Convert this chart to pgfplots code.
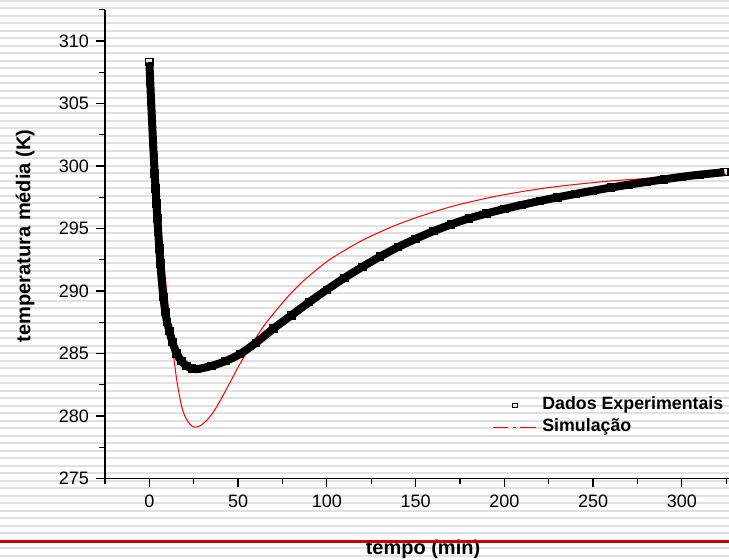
\documentclass[border=0pt]{standalone}
\usepackage{pgfplots}
\pgfplotsset{compat=1.18}
\usepackage{pgfplotstable}
\usepackage{fontspec}
\setmainfont{Liberation Sans}

\definecolor{stripe}{gray}{0.88}
\definecolor{rulered}{RGB}{204,0,0}
\definecolor{simred}{RGB}{255,0,0}

% dados experimentais: tempo (min), temperatura (K)
\pgfplotstableread{
t T
0 308.3
0.5 306.7
1.0 305.1
1.5 303.6
2.0 302.1
2.5 300.7
3.0 299.4
3.5 298.2
4.0 297.0
4.5 295.8
5.0 294.7
5.6 293.4
6.2 292.2
7.0 290.8
7.9 289.5
9.0 288.3
10.0 287.5
11.3 286.8
13.0 285.9
15.4 285.0
18.0 284.4
21.0 284.0
24.0 283.8
27.0 283.75
35.0 284.0
43.0 284.4
51.0 284.95
60.0 285.85
70.0 287.0
80.0 288.05
90.0 289.1
100.0 290.1
110.0 291.05
120.0 291.93
130.0 292.75
140.0 293.5
150.0 294.17
160.0 294.78
170.0 295.32
180.0 295.8
190.0 296.2
200.0 296.56
210.0 296.89
220.0 297.2
230.0 297.49
240.0 297.76
250.0 298.02
260.0 298.27
270.0 298.5
280.0 298.72
290.0 298.93
300.0 299.13
310.0 299.3
324.0 299.5
}\experimental

% simulacao
\pgfplotstableread{
t T
0 308.3
2 304.1
4 300.0
5.5 297.0
7 294.1
8.5 291.8
10 289.6
11.5 287.6
13.5 285.0
15.4 282.9
17 281.6
18.3 280.7
20 280.0
22 279.5
24 279.2
26.3 279.1
29 279.25
32 279.6
35 280.1
38 280.75
41 281.5
44 282.3
47 283.1
50 283.9
53 284.65
56 285.35
60 286.25
65 287.3
70 288.2
75 289.05
80 289.85
86 290.7
90 291.2
100 292.35
110 293.25
120 294.05
130 294.72
140 295.33
150 295.85
160 296.32
170 296.74
180 297.1
195 297.57
210 297.95
225 298.27
240 298.52
260 298.8
280 299.0
300 299.16
325 299.31
}\simulacao

% amostra traco-ponto da legenda (vermelha)
\newcommand{\simsample}{\llap{\textcolor{simred}{%
  \rule[1.95pt]{7.5pt}{0.6pt}\hspace{2.5pt}\rule[1.95pt]{1.3pt}{0.6pt}%
  \hspace{2.2pt}\rule[1.95pt]{7.7pt}{0.6pt}}\hspace{3.3pt}}}

\begin{document}
\begin{tikzpicture}
\path[use as bounding box] (-52.5pt,-40.75pt) rectangle (312pt,239.25pt);
% fundo listrado
\foreach \k in {0,...,74}{
  \fill[stripe] (-52.5pt,{239.25pt-0.35pt-3.75pt*\k-0.5pt}) rectangle (312pt,{239.25pt-0.35pt-3.75pt*\k+0.5pt});
}
\begin{axis}[
  at={(0,0)}, anchor=south west,
  scale only axis, width=312pt, height=234.4pt,
  xmin=-25, xmax=326.6, ymin=275, ymax=312.5,
  axis x line=bottom, axis y line=left,
  axis line style={-, line width=0.65pt},
  tick align=outside, major tick length=4.5pt, minor tick length=2.75pt,
  every tick/.style={line width=0.65pt},
  xtick={0,50,...,300}, minor xtick={-25,25,...,325},
  ytick={275,280,...,310}, minor ytick={277.5,282.5,...,312.5},
  ticklabel style={font=\fontsize{9}{10.8}\selectfont},
  /pgf/number format/assume math mode=true,
  xlabel={tempo (min)}, ylabel={temperatura média (K)},
  label style={font=\bfseries\fontsize{10}{12}\selectfont},
  xlabel style={at={(axis description cs:0.5096,-0.1504)}, anchor=center},
  ylabel style={at={(axis description cs:-0.1282,0.5173)}, anchor=center},
  legend cell align=left,
  legend style={at={(axis description cs:0.6213,0.18)}, anchor=north west,
    draw=none, fill=none, inner sep=0pt, column sep=2pt,
    font=\bfseries\fontsize{8.9}{10.7}\selectfont,
    nodes={inner sep=1pt, text height=6.7pt, text depth=2.2pt}},
]
\addlegendimage{legend image code/.code={
    \path (0pt,0pt) (21.2pt,0pt);
    \draw[line width=0.5pt] (9.4pt,-1.2pt) rectangle (11.8pt,1.2pt);}}
\addlegendentry{Dados Experimentais}
\addlegendimage{legend image code/.code={\path (0pt,0pt) (21.2pt,0pt);}}
\addlegendentry{\simsample Simulação}
\addplot[simred, line width=0.5pt, smooth, forget plot]
  table[x=t, y=T] {\simulacao};
\addplot[black, line width=4pt, smooth, mark=square, mark size=1.8pt,
  mark options={line width=0.6pt, solid}, forget plot]
  table[x=t, y=T] {\experimental};
\end{axis}
\fill[rulered] (-52.5pt,-32.25pt) rectangle (312pt,-30.75pt);
\end{tikzpicture}
\end{document}
